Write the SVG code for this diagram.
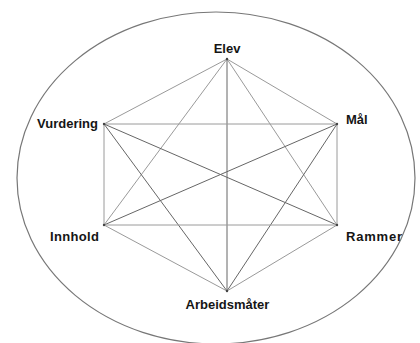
<svg xmlns="http://www.w3.org/2000/svg" width="420" height="343" viewBox="0 0 420 343">
<style>
.lbl{font-family:"Liberation Sans",Arial,sans-serif;font-weight:bold;font-size:13px;fill:#151515}
.e{stroke:#9a9a9a;stroke-width:1;fill:none}
.d{stroke:#666;stroke-width:1;fill:none}
.pt{fill:#444}
</style>
<rect width="420" height="343" fill="#fff"/>
<ellipse cx="216" cy="178" rx="199" ry="166" fill="none" stroke="#777" stroke-width="1.2"/>
<g id="connectors">
<line class="e" x1="227" y1="59" x2="104" y2="124"/>
<line class="e" x1="227" y1="59" x2="337" y2="124"/>
<line class="e" x1="227" y1="59" x2="104" y2="225"/>
<line class="e" x1="227" y1="59" x2="337" y2="225"/>
<line class="d" x1="227" y1="59" x2="227" y2="291"/>
<line class="e" x1="104" y1="124" x2="337" y2="124"/>
<line class="e" x1="104" y1="124" x2="104" y2="225"/>
<line class="d" x1="104" y1="124" x2="337" y2="225"/>
<line class="d" x1="104" y1="124" x2="227" y2="291"/>
<line class="d" x1="337" y1="124" x2="104" y2="225"/>
<line class="e" x1="337" y1="124" x2="337" y2="225"/>
<line class="d" x1="337" y1="124" x2="227" y2="291"/>
<line class="e" x1="104" y1="225" x2="337" y2="225"/>
<line class="e" x1="104" y1="225" x2="227" y2="291"/>
<line class="e" x1="337" y1="225" x2="227" y2="291"/>
</g>
<g id="elev"><circle class="pt" cx="227" cy="59" r="1.2"/><text class="lbl" x="227" y="53" text-anchor="middle">Elev</text></g>
<g id="vurdering"><circle class="pt" cx="104" cy="124" r="1.2"/><text class="lbl" x="98" y="128" text-anchor="end">Vurdering</text></g>
<g id="maal"><circle class="pt" cx="337" cy="124" r="1.2"/><text class="lbl" x="346" y="124">Mål</text></g>
<g id="innhold"><circle class="pt" cx="104" cy="225" r="1.2"/><text class="lbl" x="99" y="241" text-anchor="end" textLength="49">Innhold</text></g>
<g id="rammer"><circle class="pt" cx="337" cy="225" r="1.2"/><text class="lbl" x="346" y="241" textLength="56">Rammer</text></g>
<g id="arbeidsmaater"><circle class="pt" cx="227" cy="291" r="1.2"/><text class="lbl" x="227.5" y="309" text-anchor="middle">Arbeidsmåter</text></g>
</svg>
